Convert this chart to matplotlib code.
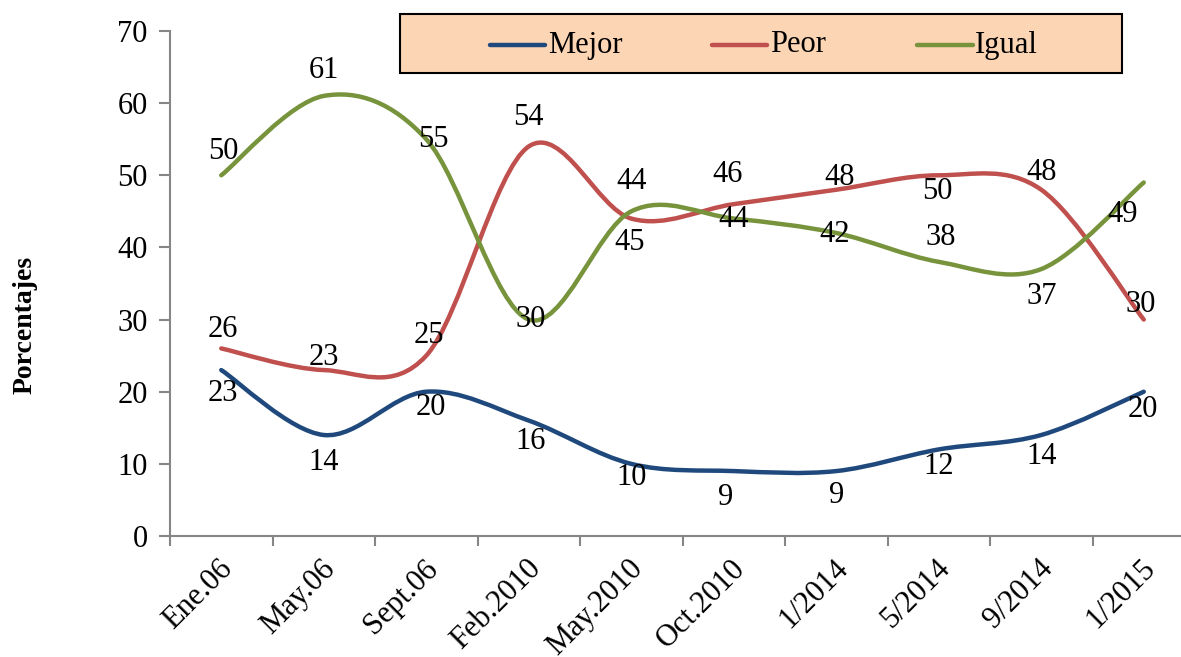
import matplotlib
matplotlib.use("Agg")
import matplotlib.pyplot as plt
from matplotlib.path import Path
from matplotlib.patches import PathPatch, Rectangle
from matplotlib.lines import Line2D
import matplotlib.transforms as mtransforms

# ---- data ----
categories = ["Ene.06", "May.06", "Sept.06", "Feb.2010", "May.2010",
              "Oct.2010", "1/2014", "5/2014", "9/2014", "1/2015"]
mejor = [23, 14, 20, 16, 10, 9, 9, 12, 14, 20]
peor = [26, 23, 25, 54, 44, 46, 48, 50, 48, 30]
igual = [50, 61, 55, 30, 45, 44, 42, 38, 37, 49]
series_names = ["Mejor", "Peor", "Igual"]
y_ticks = [0, 10, 20, 30, 40, 50, 60, 70]
y_label = "Porcentajes"

# ---- style ----
colors = {"Mejor": "#1F497D", "Peor": "#C0504D", "Igual": "#77933C"}
# data label offsets in pixels (dx, dy; dy up)
label_offsets = {
    "Mejor": [(2, -23), (0, -27), (5, -16), (2, -21), (0, -14),
              (-8, -26), (0, -24), (0, -17), (0, -22), (-1, -18)],
    "Peor": [(2, 19), (0, 13), (3, 20), (0, 29), (0, 37),
             (-6, 30), (3, 12), (-1, -16), (0, 17), (-3, 15)],
    "Igual": [(2, 24), (0, 25), (7, 0), (2, 0), (-2, -31),
              (0, -1), (-2, -1), (2, 24), (0, -27), (-21, -32)],
}

W, H = 1181, 657
plt.rcParams["font.family"] = ["Liberation Serif", "DejaVu Serif"]
FS = 22

fig = plt.figure(figsize=(W / 100, H / 100), dpi=100)
left_px, right_px, top_px, bot_px = 170, 1195, 31, 536
ax = fig.add_axes([left_px / W, 1 - bot_px / H,
                   (right_px - left_px) / W, (bot_px - top_px) / H])
ax.set_xlim(-0.5, len(categories) - 0.5)
ax.set_ylim(0, 70)


def smooth_path(xs, ys):
    pts = list(zip(xs, ys))
    n = len(pts)
    verts = [pts[0]]
    codes = [Path.MOVETO]
    for i in range(n - 1):
        p0 = pts[i - 1] if i > 0 else pts[i]
        p1 = pts[i]
        p2 = pts[i + 1]
        p3 = pts[i + 2] if i + 2 < n else pts[i + 1]
        c1 = (p1[0] + (p2[0] - p0[0]) / 6, p1[1] + (p2[1] - p0[1]) / 6)
        c2 = (p2[0] - (p3[0] - p1[0]) / 6, p2[1] - (p3[1] - p1[1]) / 6)
        verts += [c1, c2, p2]
        codes += [Path.CURVE4] * 3
    return Path(verts, codes)


xs = list(range(len(categories)))
data = {"Mejor": mejor, "Peor": peor, "Igual": igual}
for name in series_names:
    vals = data[name]
    patch = PathPatch(smooth_path(xs, vals), fill=False, edgecolor=colors[name],
                      lw=3.2, capstyle="round", joinstyle="round", zorder=3)
    ax.add_patch(patch)
for name in series_names:
    vals = data[name]
    for i, v in enumerate(vals):
        dx, dy = label_offsets[name][i]
        ax.annotate(str(v), (i, v), xytext=(dx, dy), textcoords="offset pixels",
                    ha="center", va="center", fontsize=FS, color="black", zorder=5)

# axes styling
for s in ["top", "right"]:
    ax.spines[s].set_visible(False)
for s in ["left", "bottom"]:
    ax.spines[s].set_color("#868686")
    ax.spines[s].set_linewidth(1.5)

ax.set_yticks(y_ticks)
ax.set_yticklabels([str(t) for t in y_ticks], fontsize=FS)
ax.tick_params(axis="y", direction="out", length=8, width=1.5, color="#868686", pad=8)

ax.set_xticks(xs)
ax.set_xticklabels(categories, fontsize=FS, rotation=45, ha="right",
                   rotation_mode="anchor")
ax.tick_params(axis="x", which="major", length=0, pad=13)
ax.set_xticks([x - 0.5 for x in xs], minor=True)
ax.tick_params(axis="x", which="minor", direction="out", length=7, width=1.5,
               color="#868686")
offset = mtransforms.ScaledTranslation(-3 / 100, 0, fig.dpi_scale_trans)
for lab in ax.get_xticklabels():
    lab.set_transform(lab.get_transform() + offset)

fig.text(25 / W, 1 - 325 / H, y_label, rotation=90, fontsize=20,
         fontweight="bold", ha="center", va="center")

# legend drawn manually
def fx(x):
    return x / W


def fy(y):
    return 1 - y / H


fig.add_artist(Rectangle((fx(400), fy(73)), fx(1122) - fx(400), fy(14) - fy(73),
                         transform=fig.transFigure, facecolor="#FCD5B5",
                         edgecolor="black", lw=1.5, zorder=10))
legend_pos = [(490, 545, 548), (712, 767, 770), (917, 973, 975)]
for name, (x0, x1, xt) in zip(series_names, legend_pos):
    fig.add_artist(Line2D([fx(x0), fx(x1)], [fy(45), fy(45)],
                          transform=fig.transFigure, color=colors[name],
                          lw=3.2, solid_capstyle="round", zorder=11))
    fig.text(fx(xt), fy(45), name, fontsize=FS, ha="left", va="center",
             zorder=12)

fig.savefig("out.png", dpi=100)
